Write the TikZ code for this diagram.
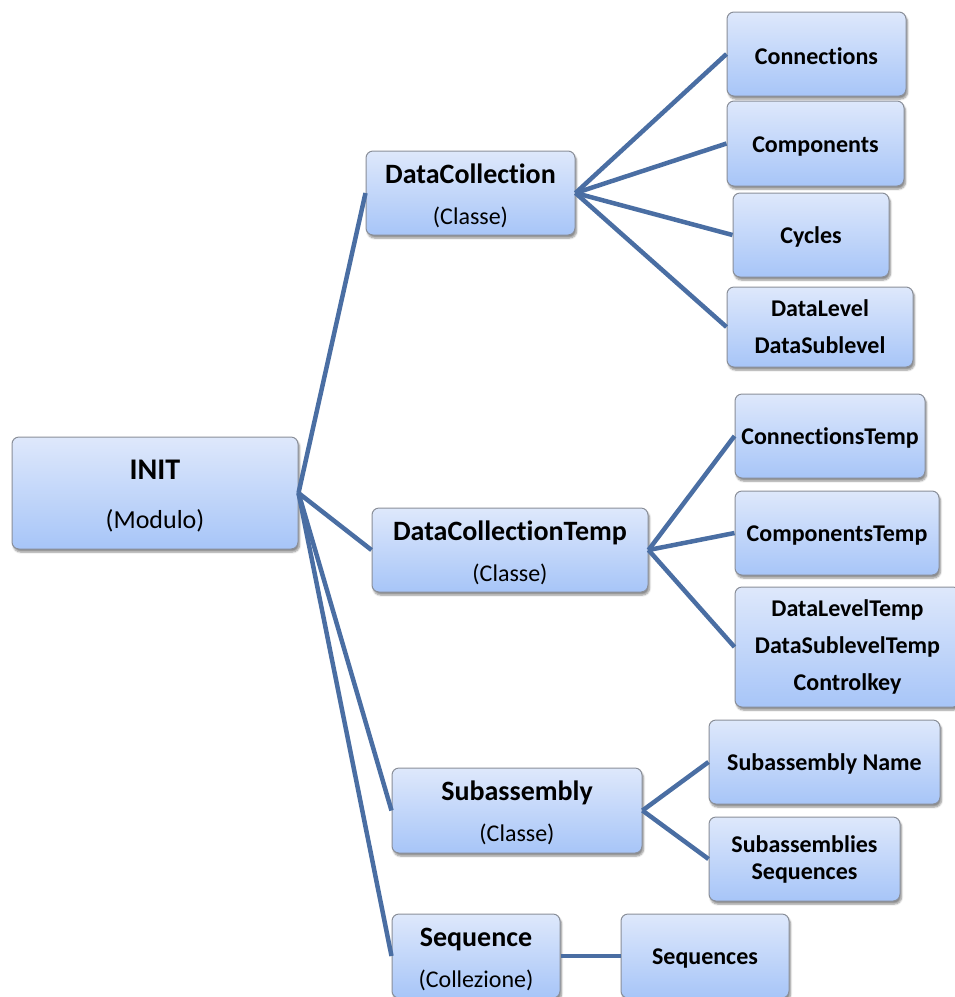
\documentclass[tikz,border=0pt]{standalone}
\usepackage{fontspec}
\setmainfont{Carlito}[Ligatures={NoCommon}]
\usetikzlibrary{shadows.blur}
\definecolor{boxtop}{HTML}{DEE8FB}
\definecolor{boxbot}{HTML}{A7C5F8}
\definecolor{boxrim}{HTML}{8A8F99}
\definecolor{linkblue}{HTML}{4A6EA3}
\tikzset{
  box/.style={draw=boxrim, line width=1pt, rounded corners=7pt,
    top color=boxtop, bottom color=boxbot, inner sep=0pt, align=center,
    blur shadow={shadow xshift=1.5pt, shadow yshift=-3pt, shadow blur steps=6, shadow opacity=45},
    font=\fontsize{24}{37}\selectfont\bfseries,
    % a strut on the first line lowers the text block slightly
    execute at begin node={\rule{0pt}{21pt}}},
  parent/.style={box, font=\fontsize{24}{41}\selectfont},
  link/.style={draw=linkblue, line width=4.5pt}
}
% bold heading line of a two-line box; the strut lowers the text block a little
\newcommand{\ttl}[1]{{\fontsize{28}{41}\selectfont\bfseries\rule{0pt}{25pt}#1}}
\begin{document}
\begin{tikzpicture}[x=1pt,y=-1pt]
\useasboundingbox (0,0) rectangle (955,997);
% root module
\node[parent, minimum width=286pt, minimum height=112pt, font=\fontsize{26}{49}\selectfont] (init) at (155,493)
  {{\fontsize{30}{49}\selectfont\bfseries\rule{0pt}{25pt}INIT}\\(Modulo)};
% classes and collection
\node[parent, minimum width=209pt, minimum height=84pt] (dc) at (470.5,193) {\ttl{DataCollection}\\(Classe)};
\node[parent, minimum width=276pt, minimum height=84pt] (dct) at (510,550) {\ttl{DataCollectionTemp}\\(Classe)};
\node[parent, minimum width=250pt, minimum height=85pt] (sub) at (517,810.5) {\ttl{Subassembly}\\(Classe)};
\node[parent, minimum width=168pt, minimum height=84pt] (seq) at (476,956) {\ttl{Sequence}\\(Collezione)};
% leaves of DataCollection
\node[box, minimum width=179pt, minimum height=84pt] (conn) at (816.5,54) {Connections};
\node[box, minimum width=177pt, minimum height=85pt] (comp) at (815.5,143.5) {Components};
\node[box, minimum width=156pt, minimum height=84pt] (cyc) at (811,235) {Cycles};
\node[box, minimum width=186pt, minimum height=80pt] (dl) at (820,327) {DataLevel\\DataSublevel};
% leaves of DataCollectionTemp
\node[box, minimum width=190pt, minimum height=84pt] (ct) at (830,436) {ConnectionsTemp};
\node[box, minimum width=204pt, minimum height=84pt] (cpt) at (837,533) {ComponentsTemp};
\node[box, minimum width=225pt, minimum height=120pt] (dlt) at (847.5,647) {DataLevelTemp\\DataSublevelTemp\\Controlkey};
% leaves of Subassembly
\node[box, minimum width=231pt, minimum height=84pt] (subn) at (824.5,762) {Subassembly Name};
\node[box, minimum width=191pt, minimum height=84pt, font=\fontsize{24}{27}\selectfont\bfseries] (subs) at (804.5,859) {Subassemblies\\Sequences};
% leaf of Sequence
\node[box, minimum width=168pt, minimum height=84pt] (seqs) at (705,956) {Sequences};
% connectors
\foreach \t in {dc,dct,sub,seq} \draw[link] (init.east) -- (\t.west);
\foreach \t in {conn,comp,cyc,dl} \draw[link] (dc.east) -- (\t.west);
\foreach \t in {ct,cpt,dlt} \draw[link] (dct.east) -- (\t.west);
\foreach \t in {subn,subs} \draw[link] (sub.east) -- (\t.west);
\draw[link] (seq.east) -- (seqs.west);
\end{tikzpicture}
\end{document}
